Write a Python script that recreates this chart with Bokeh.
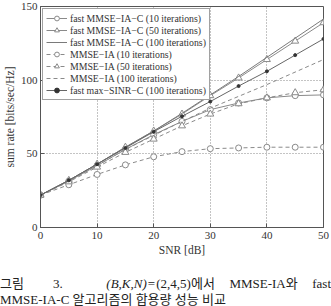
from bokeh.plotting import figure
from bokeh.models import Div, Legend, LegendItem, FixedTicker
from bokeh.layouts import column
from bokeh.embed import file_html
from bokeh.resources import INLINE

# SNR sweep (dB) and sum rate (bits/sec/Hz) for each algorithm
snr = [0, 5, 10, 15, 20, 25, 30, 35, 40, 45, 50]
fast_c10 = [22, 31.5, 42, 53, 63, 72, 80, 84.5, 88, 89.5, 90]
fast_c50 = [22, 32, 43, 54.5, 65.5, 77, 89.5, 101.5, 114, 126.5, 139]
fast_c100 = [22, 32, 43, 54.5, 65.5, 77.5, 90, 102.5, 115.5, 128.5, 141.5]
mmse10 = [22, 29, 36, 42.5, 48, 51.5, 53.5, 54, 54.5, 54.5, 54.5]
mmse50 = [22, 31, 41, 51, 60, 69, 77, 84, 88, 91.5, 93.5]
mmse100 = [22, 31.5, 42, 53, 62.5, 72, 81, 89, 97, 105.5, 114]
maxsinr100 = [22, 32, 43, 54, 65, 75.5, 85.5, 96, 106, 117, 128]

x_ticks = [0, 10, 20, 30, 40, 50]
y_ticks = [0, 50, 100, 150]

SERIF = "Liberation Serif"
TXT = "#333333"

p = figure(width=331, height=258, x_range=(0, 50), y_range=(0, 150),
           output_backend="svg", toolbar_location=None,
           min_border_left=33, min_border_right=8, min_border_top=6,
           min_border_bottom=24)
p.background_fill_color = "white"
p.border_fill_color = "white"
p.outline_line_color = "#555555"
p.outline_line_width = 1

for ax in (p.xaxis[0], p.yaxis[0]):
    ax.axis_line_color = "#555555"
    ax.major_tick_line_color = "#555555"
    ax.major_tick_in = 4
    ax.major_tick_out = 0
    ax.minor_tick_line_color = None
    ax.major_label_text_font = SERIF
    ax.major_label_text_font_size = "11px"
    ax.major_label_text_color = TXT
    ax.axis_label_text_font = SERIF
    ax.axis_label_text_font_size = "11.5px"
    ax.axis_label_text_font_style = "normal"
    ax.axis_label_text_color = TXT

p.xaxis.ticker = FixedTicker(ticks=x_ticks)
p.yaxis.ticker = FixedTicker(ticks=y_ticks)
p.xaxis.axis_label = "SNR [dB]"
p.yaxis.axis_label = "sum rate [bits/sec/Hz]"
p.xaxis.major_label_standoff = 4
p.xaxis.axis_label_standoff = 2
p.yaxis.major_label_standoff = 3
p.yaxis.axis_label_standoff = 2

for g in (p.xgrid[0], p.ygrid[0]):
    g.grid_line_color = "#888888"
    g.grid_line_dash = "1 2"
    g.grid_line_width = 1

LC = "#8a8a8a"
DASH = "4 3"

items = []

r = p.line(snr, fast_c10, line_color=LC, line_width=1)
m = p.scatter(snr, fast_c10, marker="circle", size=6, fill_color="white",
              line_color=LC)
items.append(LegendItem(label="fast MMSE\u2212IA\u2212C (10 iterations)", renderers=[r, m]))

r = p.line(snr, fast_c50, line_color=LC, line_width=1)
m = p.scatter(snr, fast_c50, marker="triangle", size=7, fill_color="white",
              line_color=LC)
items.append(LegendItem(label="fast MMSE\u2212IA\u2212C (50 iterations)", renderers=[r, m]))

r = p.line(snr, fast_c100, line_color="#7a7a7a", line_width=1)
items.append(LegendItem(label="fast MMSE\u2212IA\u2212C (100 iterations)", renderers=[r]))

r = p.line(snr, mmse10, line_color=LC, line_width=1, line_dash=DASH)
m = p.scatter(snr, mmse10, marker="circle", size=6, fill_color="white",
              line_color=LC)
items.append(LegendItem(label="MMSE\u2212IA (10 iterations)", renderers=[r, m]))

r = p.line(snr, mmse50, line_color=LC, line_width=1, line_dash=DASH)
m = p.scatter(snr, mmse50, marker="triangle", size=7, fill_color="white",
              line_color=LC)
items.append(LegendItem(label="MMSE\u2212IA (50 iterations)", renderers=[r, m]))

r = p.line(snr, mmse100, line_color=LC, line_width=1, line_dash=DASH)
items.append(LegendItem(label="MMSE\u2212IA (100 iterations)", renderers=[r]))

r = p.line(snr, maxsinr100, line_color="#666666", line_width=1)
m = p.scatter(snr, maxsinr100, marker="circle", size=3, fill_color="#333333",
              line_color="#333333")
items.append(LegendItem(label="fast max\u2212SINR\u2212C (100 iterations)", renderers=[r, m]))

legend = Legend(items=items, location="top_left")
legend.label_text_font = SERIF
legend.label_text_font_size = "9.8px"
legend.label_text_color = TXT
legend.glyph_width = 21
legend.glyph_height = 12
legend.label_height = 12
legend.label_standoff = 3
legend.spacing = 0
legend.padding = 3
legend.margin = 2
legend.border_line_color = "#444444"
legend.border_line_width = 1
legend.background_fill_color = "white"
legend.background_fill_alpha = 1
p.add_layout(legend)

caption = Div(
    text=(
        '<div style="text-align:justify;text-align-last:justify;white-space:nowrap;'
        'width:331px;">그림&nbsp;&nbsp;3.&nbsp;&nbsp; <i>(B,K,N)</i>&#8202;=&#8202;(2,4,5)에서 '
        'MMSE-IA와 fast</div>'
        '<div style="text-align:left;width:331px;">MMSE-IA-C 알고리즘의 합용량 성능 비교</div>'
    ),
    width=331, height=48, margin=(0, 0, 0, 0),
    styles={"font-family": "'Liberation Serif', 'Noto Sans CJK KR', serif",
            "font-size": "13px", "line-height": "16px", "color": "#222222",
            "padding-top": "18px"},
)

layout = column(p, caption, spacing=0)

open("out.html", "w").write(file_html(layout, INLINE))
